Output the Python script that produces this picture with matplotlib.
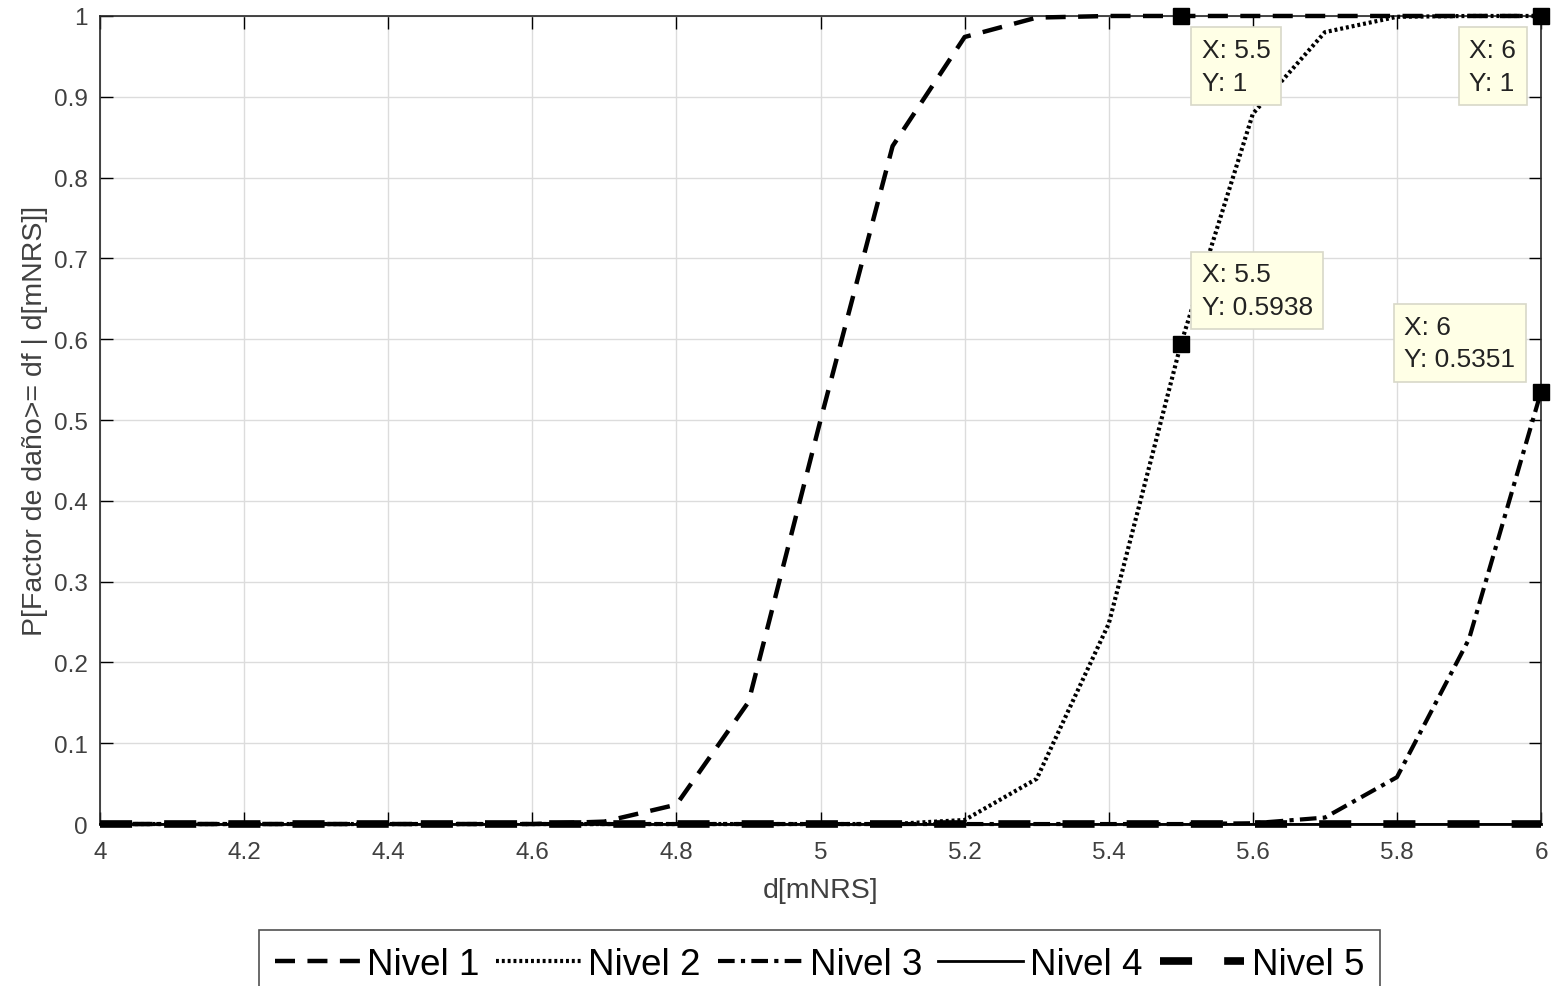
import numpy as np
import matplotlib.pyplot as plt

plt.rcParams['font.family'] = ['Liberation Sans', 'DejaVu Sans']

# distancia en mNRS, pasos de 0.1
d = [4.0, 4.1, 4.2, 4.3, 4.4, 4.5, 4.6, 4.7, 4.8, 4.9, 5.0,
     5.1, 5.2, 5.3, 5.4, 5.5, 5.6, 5.7, 5.8, 5.9, 6.0]

# probabilidad de excedencia para cada nivel de daño
nivel1 = [0, 0, 0, 0, 0, 0, 0, 0.003, 0.024, 0.151, 0.5,
          0.839, 0.974, 0.998, 1, 1, 1, 1, 1, 1, 1]
nivel2 = [0, 0, 0, 0, 0, 0, 0, 0, 0, 0, 0,
          0, 0.005, 0.056, 0.248, 0.5938, 0.879, 0.98, 0.999, 1, 1]
nivel3 = [0, 0, 0, 0, 0, 0, 0, 0, 0, 0, 0,
          0, 0, 0, 0, 0, 0.001, 0.008, 0.058, 0.229, 0.5351]
nivel4 = [0] * 21
nivel5 = [0] * 21

labels = ['Nivel 1', 'Nivel 2', 'Nivel 3', 'Nivel 4', 'Nivel 5']

# data tips: (x, y, desplazamiento del texto en pixeles)
tips = [(5.5, 1.0, (21, -22)), (6.0, 1.0, (-72, -22)),
        (5.5, 0.5938, (21, 82)), (6.0, 0.5351, (-137, 77))]

fig = plt.figure(figsize=(15.51, 9.87), dpi=100)
ax = fig.add_axes([0.0645, 0.1641, 0.9291, 0.8187])

ax.plot(d, nivel5, color='k', lw=5.5, linestyle=(0, (4.2, 4.2)), label=labels[4],
        zorder=3, clip_on=False)
ax.plot(d, nivel4, color='k', lw=2.0, linestyle='-', label=labels[3], zorder=3, clip_on=False)
ax.plot(d, nivel1, color='k', lw=3.2, linestyle=(0, (4.5, 2.8)), label=labels[0],
        zorder=4, clip_on=False)
ax.plot(d, nivel2, color='k', lw=3.0, linestyle=(0, (0.7, 0.7)), label=labels[1],
        zorder=4, clip_on=False)
ax.plot(d, nivel3, color='k', lw=3.0, linestyle=(0, (4, 1.5, 1, 1.5)), label=labels[2],
        zorder=4, clip_on=False)

for x, y, off in tips:
    ax.plot([x], [y], 's', color='k', ms=11, clip_on=False, zorder=6)
    ytxt = 'Y: 1' if y == 1 else 'Y: %.4f' % y
    ax.annotate('X: %g\n%s' % (x, ytxt), xy=(x, y), xytext=off,
                textcoords='offset pixels', ha='left', va='top',
                fontsize=19, color='#222222', linespacing=1.45,
                bbox=dict(boxstyle='square,pad=0.4', fc='#ffffe6', ec='#d8d8c8', lw=1.2),
                zorder=7, annotation_clip=False)

ax.set_xlim(4, 6)
ax.set_ylim(0, 1)
ax.set_xticks(np.arange(4, 6.01, 0.2))
ax.set_xticklabels(['4', '4.2', '4.4', '4.6', '4.8', '5', '5.2', '5.4', '5.6', '5.8', '6'])
ax.set_yticks(np.arange(0, 1.01, 0.1))
ax.set_yticklabels(['0', '0.1', '0.2', '0.3', '0.4', '0.5', '0.6', '0.7', '0.8', '0.9', '1'])
ax.grid(True, color='#dcdcdc', lw=1.0)
ax.set_axisbelow(True)
ax.tick_params(direction='in', top=True, right=True, length=9, width=1,
               labelsize=17.5, labelcolor='#404040')
ax.tick_params(axis='x', pad=12)
ax.tick_params(axis='y', pad=9)
for s in ax.spines.values():
    s.set_color('#262626')
    s.set_linewidth(1.2)

ax.set_xlabel('d[mNRS]', fontsize=20.5, color='#404040', labelpad=10)
ax.set_ylabel('P[Factor de daño>= df | d[mNRS]]', fontsize=20.5, color='#404040', labelpad=4)

h, l = ax.get_legend_handles_labels()
order = [2, 3, 4, 1, 0]
leg = fig.legend([h[i] for i in order], [l[i] for i in order], ncol=5,
                 loc='upper center', bbox_to_anchor=(0.5285, 1 - 931 / 987),
                 fontsize=26.5, handlelength=2.3, handletextpad=0.2,
                 columnspacing=0.45, frameon=True, fancybox=False,
                 borderpad=0.45, borderaxespad=0)
leg.get_frame().set_edgecolor('#262626')
leg.get_frame().set_linewidth(1.2)

fig.savefig('out.png', dpi=100)
